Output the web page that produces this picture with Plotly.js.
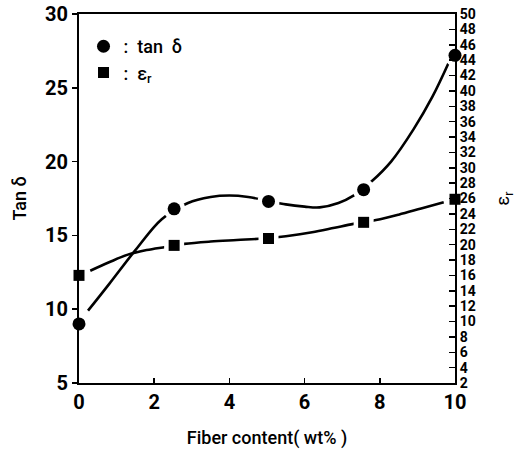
<!DOCTYPE html>
<html><head><meta charset="utf-8">
<script src="https://cdn.plot.ly/plotly-3.0.1.min.js"></script>
<style>
html,body{margin:0;padding:0;background:#fff}
</style>
</head><body><div id="chart" style="width:524px;height:459px"></div>
<script>
// Measured points
const fiberContent = [0, 2.53, 5.04, 7.57, 10];
const tanDelta = [9.0, 16.8, 17.3, 18.1, 27.2];
const epsilonR = [16.0, 19.9, 20.8, 22.9, 25.9];
// Fitted curves
const tanFitX = [0.24, 0.8, 1.5, 2.2, 2.9, 3.5, 4.0, 4.5, 5.0, 5.5, 6.0, 6.4, 6.9, 7.3, 7.8, 8.3, 8.9, 9.4, 9.85];
const tanFitY = [9.9, 11.7, 14.0, 16.1, 17.2, 17.6, 17.7, 17.6, 17.35, 17.1, 16.95, 16.9, 17.2, 17.7, 18.7, 20.0, 22.2, 24.4, 26.8];
const epsFitX = [0.3, 0.8, 1.3, 1.8, 2.3, 2.8, 3.5, 4.2, 4.9, 5.5, 6.2, 6.8, 7.3, 7.9, 8.5, 9.1, 9.7];
const epsFitY = [16.6, 17.7, 18.7, 19.3, 19.7, 20.1, 20.4, 20.6, 20.8, 21.1, 21.6, 22.2, 22.7, 23.2, 23.9, 24.7, 25.5];
const xTicks = [0, 2, 4, 6, 8, 10];
const leftTicks = [5, 10, 15, 20, 25, 30];

const FONT = 'Roboto, "DejaVu Sans", sans-serif';

const traces = [
  {x: tanFitX, y: tanFitY, mode: 'lines', line: {color: '#000', width: 2.6, shape: 'spline', smoothing: 1}, showlegend: false, hoverinfo: 'skip'},
  {x: epsFitX, y: epsFitY, yaxis: 'y2', mode: 'lines', line: {color: '#000', width: 2.6, shape: 'spline', smoothing: 1}, showlegend: false, hoverinfo: 'skip'},
  {x: fiberContent, y: tanDelta, mode: 'markers', marker: {symbol: 'circle', size: 22, color: '#fff'}, showlegend: false, hoverinfo: 'skip', cliponaxis: false},
  {x: fiberContent, y: epsilonR, yaxis: 'y2', mode: 'markers', marker: {symbol: 'square', size: 20, color: '#fff'}, showlegend: false, hoverinfo: 'skip', cliponaxis: false},
  {x: fiberContent, y: tanDelta, mode: 'markers', name: ':\u00a0 tan\u00a0 δ', marker: {symbol: 'circle', size: 13, color: '#000'}, cliponaxis: false},
  {x: fiberContent, y: epsilonR, yaxis: 'y2', mode: 'markers', name: ':\u00a0 ε<sub>r</sub>', marker: {symbol: 'square', size: 11, color: '#000'}, cliponaxis: false}
];

const layout = {
  width: 524, height: 459,
  margin: {l: 79, r: 69, t: 14, b: 76},
  paper_bgcolor: '#fff', plot_bgcolor: '#fff',
  font: {family: FONT, color: '#000'},
  showlegend: true,
  legend: {x: 0.012, y: 0.962, xanchor: 'left', yanchor: 'top', bgcolor: 'rgba(0,0,0,0)', font: {size: 18, family: FONT, weight: 500}},
  xaxis: {
    range: [0, 10], tickvals: xTicks, ticktext: xTicks.map(String),
    showgrid: false, zeroline: false, showline: true, linecolor: '#000', linewidth: 2, mirror: true,
    ticks: 'inside', ticklen: 5, tickwidth: 1.5, tickcolor: '#000',
    tickfont: {size: 20, family: FONT, weight: 'bold'},
    title: {text: 'Fiber content( wt% )', font: {size: 18, family: FONT, weight: 500}, standoff: 18}
  },
  yaxis: {
    range: [5, 30], tickvals: leftTicks,
    showgrid: false, zeroline: false, showline: true, linecolor: '#000', linewidth: 2,
    ticks: 'outside', ticklen: 5, tickwidth: 1.5, tickcolor: '#000',
    tickfont: {size: 20, family: FONT, weight: 'bold'},
    title: {text: 'Tan δ', font: {size: 18, family: FONT, weight: 500}, standoff: 14}
  },
  yaxis2: {
    overlaying: 'y', side: 'right', range: [2, 50], dtick: 2, tick0: 2,
    showgrid: false, zeroline: false, showline: true, linecolor: '#000', linewidth: 2,
    ticks: 'inside', ticklen: 6, tickwidth: 1.5, tickcolor: '#000',
    tickfont: {size: 14, family: FONT, weight: 'bold'},
    title: {text: 'ε<sub>r</sub>', font: {size: 18, family: FONT}, standoff: 22}
  }
};

Plotly.newPlot('chart', traces, layout, {staticPlot: true, displayModeBar: false});
</script></body></html>
